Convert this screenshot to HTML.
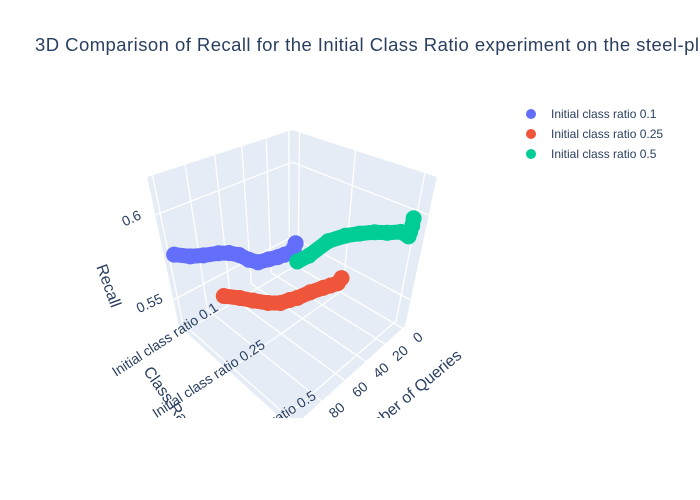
<!DOCTYPE html>
<html><head><meta charset="utf-8"><style>
body{margin:0;background:#fff;}
svg{display:block;font-family:"Liberation Sans",Arial,sans-serif;}
</style></head><body>
<svg id="chart" width="700" height="500" viewBox="0 0 700 500">
<rect x="0" y="0" width="700" height="500" fill="#fff"/>
<text x="35" y="51" font-size="18.5" letter-spacing="0.45" fill="#2a3f5f">3D Comparison of Recall for the Initial Class Ratio experiment on the steel-plates dataset</text>
<defs><clipPath id="sceneClip"><rect x="0" y="70" width="520" height="348"/></clipPath></defs>
<g id="scene" clip-path="url(#sceneClip)"></g>
<g font-size="12" fill="#2a3f5f">
<g><circle cx="531" cy="114" r="5" fill="#636efa"/><text x="551" y="118">Initial class ratio 0.1</text></g>
<g><circle cx="531" cy="134" r="5" fill="#ef553b"/><text x="551" y="138">Initial class ratio 0.25</text></g>
<g><circle cx="531" cy="154" r="5" fill="#00cc96"/><text x="551" y="158">Initial class ratio 0.5</text></g>
</g>
</svg>
<script>
const categories = ["Initial class ratio 0.1", "Initial class ratio 0.25", "Initial class ratio 0.5"];
const queriesBlue = [0, 2, 4, 12, 19, 28, 38, 46, 54, 62, 70, 81, 90, 100];
const recallBlue = [0.549, 0.546, 0.544, 0.545, 0.546, 0.548, 0.550, 0.555, 0.5615, 0.566, 0.569, 0.572, 0.575, 0.580];
const queriesRed = [0, 4, 12, 20, 33, 45, 52, 60, 70, 81, 90, 100];
const recallRed = [0.542, 0.540, 0.542, 0.544, 0.547, 0.549, 0.551, 0.553, 0.558, 0.565, 0.571, 0.577];
const queriesGreen = [0, 0, 1, 2, 12, 26, 38, 51, 62, 74, 86, 93];
const recallGreen = [0.597, 0.593, 0.590, 0.588, 0.594, 0.5985, 0.603, 0.607, 0.610, 0.612, 0.6106, 0.611];
const recallTicks = [0.55, 0.6];
const queryTicks = [0, 20, 40, 60, 80, 100];

const NS = "http://www.w3.org/2000/svg";
const scene = document.getElementById("scene");
const qMin = -3, qMax = 103, rMin = 0.5316, rMax = 0.6183;
const D = 4.7, F = 422, CX = 292, CY = 260.6;
function xq(q){ return -1 + 2*(q - qMin)/(qMax - qMin); }
function yc(i){ return -1 + 2*(i + 0.15)/2.3; }
function zr(r){ return -1 + 2*(r - rMin)/(rMax - rMin); }
function proj(X, Y, Z){
  const r = (-X + Y)/Math.SQRT2;
  const u = (-X - Y + 2*Z)/Math.sqrt(6);
  const dep = D - (X + Y + Z)/Math.sqrt(3);
  return [CX + F*r/dep, CY - F*u/dep];
}
function mk(tag, attrs){ const e = document.createElementNS(NS, tag); for (const k in attrs) e.setAttribute(k, attrs[k]); scene.appendChild(e); return e; }
function poly(pts){ return pts.map(p => proj(p[0], p[1], p[2]).map(v => v.toFixed(1)).join(",")).join(" "); }
function line(a, b){ const p = proj(a[0],a[1],a[2]), q = proj(b[0],b[1],b[2]);
  const e = mk("line", {x1:p[0], y1:p[1], x2:q[0], y2:q[1], stroke:"#fff", "stroke-width":1.3});
  
  
}
const wallFill = "#e5ecf6";
let w = mk("polygon", {points: poly([[1,-1,-1],[-1,-1,-1],[-1,-1,1],[1,-1,1]]), fill: wallFill});


w = mk("polygon", {points: poly([[-1,-1,-1],[-1,1,-1],[-1,1,1],[-1,-1,1]]), fill: wallFill});


w = mk("polygon", {points: poly([[1,-1,-1],[-1,-1,-1],[-1,1,-1],[1,1,-1]]), fill: wallFill});


recallTicks.forEach(v => { const z = zr(v); line([1,-1,z],[-1,-1,z]); line([-1,-1,z],[-1,1,z]); });
queryTicks.forEach(v => { const x = xq(v); line([x,-1,-1],[x,-1,1]); line([x,-1,-1],[x,1,-1]); });
categories.forEach((c,i) => { const y = yc(i); line([-1,y,-1],[-1,y,1]); line([-1,y,-1],[1,y,-1]); });
function label(txt, x, y, rot, size, name){
  const t = mk("text", {x:0, y:0, "font-size":size, fill:"#2a3f5f", "text-anchor":"middle", "dominant-baseline":"central",
    transform:`translate(${x.toFixed(1)},${y.toFixed(1)}) rotate(${rot})`});
  t.textContent = txt;
  
  
}
recallTicks.forEach(v => { const p = proj(1,-1,zr(v)); label(String(v), p[0]-24, p[1]+3, -25, 14, "recall-tick-label"); });
queryTicks.forEach(v => { const p = proj(xq(v),1,-1); label(String(v), p[0]+15, p[1]+9, -40, 14, "queries-tick-label"); });
categories.forEach((c,i) => { const p = proj(1,yc(i),-1); label(c, p[0]-20, p[1]+8, -33, 14, "class-tick-label"); });
label("Recall", 108, 286, 70, 16, "recall-axis-title");
label("Class Ratio", 170, 402, 55, 16, "class-axis-title");
label("Number of Queries", 408, 397, -40, 16, "queries-axis-title");
function series(qs, rs, ci, color, name){
  const y = yc(ci);
  const pts = qs.map((q,k) => proj(xq(q), y, zr(rs[k])));
  const pl = mk("polyline", {points: pts.map(p => p[0].toFixed(1)+","+p[1].toFixed(1)).join(" "), fill:"none", stroke:color,
    "stroke-width":15, "stroke-linecap":"round", "stroke-linejoin":"round"});
  
  
  pts.forEach(p => {
    const c = mk("circle", {cx:p[0].toFixed(1), cy:p[1].toFixed(1), r:8, fill:color});
    
    
  });
}
series(queriesRed, recallRed, 1, "#ef553b", "ratio-0.25");
series(queriesBlue, recallBlue, 0, "#636efa", "ratio-0.1");
series(queriesGreen, recallGreen, 2, "#00cc96", "ratio-0.5");
</script>
</body></html>
